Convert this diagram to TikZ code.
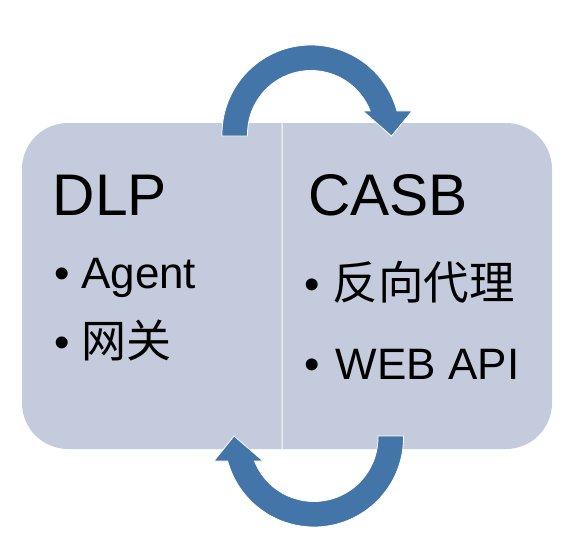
\documentclass[tikz,border=0pt]{standalone}
\usepackage{fontspec}
\setmainfont{Liberation Sans}
\newfontfamily\cjk{Noto Sans CJK SC}
\usetikzlibrary{calc}
\definecolor{panelfill}{RGB}{195,203,220}
\definecolor{cyclefill}{RGB}{67,117,169}
\begin{document}
\begin{tikzpicture}[x=1pt,y=1pt,panel/.style={fill=panelfill},
cyclearrow/.style={fill=cyclefill,draw=white,line width=0.8pt,line join=miter},
title/.style={anchor=base west,inner sep=0pt,font=\fontsize{58.7pt}{62pt}\selectfont},
item/.style={anchor=base west,inner sep=0pt,font=\fontsize{44pt}{48pt}\selectfont}]
\useasboundingbox (0,0) rectangle (587,-539);
% two halves of the panel
\fill[panel] (281.5,-123) -- (68,-123) arc[start angle=90,end angle=180,radius=46pt] -- (22,-403) arc[start angle=180,end angle=270,radius=46pt] -- (281.5,-449) -- cycle;
\fill[panel] (282.5,-123) -- (506,-123) arc[start angle=90,end angle=0,radius=46pt] -- (552,-403) arc[start angle=0,end angle=-90,radius=46pt] -- (282.5,-449) -- cycle;
\node[title] (dlp) at (52.5,-215) {DLP}; \node[title] (casb) at (308,-215) {CASB};
\node[item] (agent) at (53.8,-288) {•\hspace{11.8pt}Agent}; \node[item] (gw) at (53.8,-357.5) {•\hspace{11.8pt}{\cjk\fontsize{45pt}{48pt}\selectfont 网关}};
\node[item] (proxy) at (303.8,-299) {•\hspace{13.5pt}{\cjk\fontsize{45.5pt}{48pt}\selectfont 反向代理}}; \node[item] (api) at (303.8,-379.5) {•\hspace{16.5pt}WEB API};
% cycle arrows
\coordinate (topc) at (311,-134); \coordinate (botc) at (314,-437.5);
\path[cyclearrow] (222,-136) -- ($(topc)+(180:89pt)$) arc[start angle=180,end angle=15.0,radius=89pt] -- (412,-111) -- (391.5,-136) -- (363,-111)
-- ($(topc)+(21.24:63.5pt)$) arc[start angle=21.24,end angle=180,radius=63.5pt] -- (247.5,-136) -- cycle;
\path[cyclearrow] (403.5,-436) -- ($(botc)+(0:89.5pt)$) arc[start angle=0,end angle=-164.78,radius=89.5pt] -- (214,-461) -- (234,-436) -- (263,-461)
-- ($(botc)+(-158.46:64pt)$) arc[start angle=-158.46,end angle=0,radius=64pt] -- (378,-436) -- cycle;
\end{tikzpicture}
\end{document}
